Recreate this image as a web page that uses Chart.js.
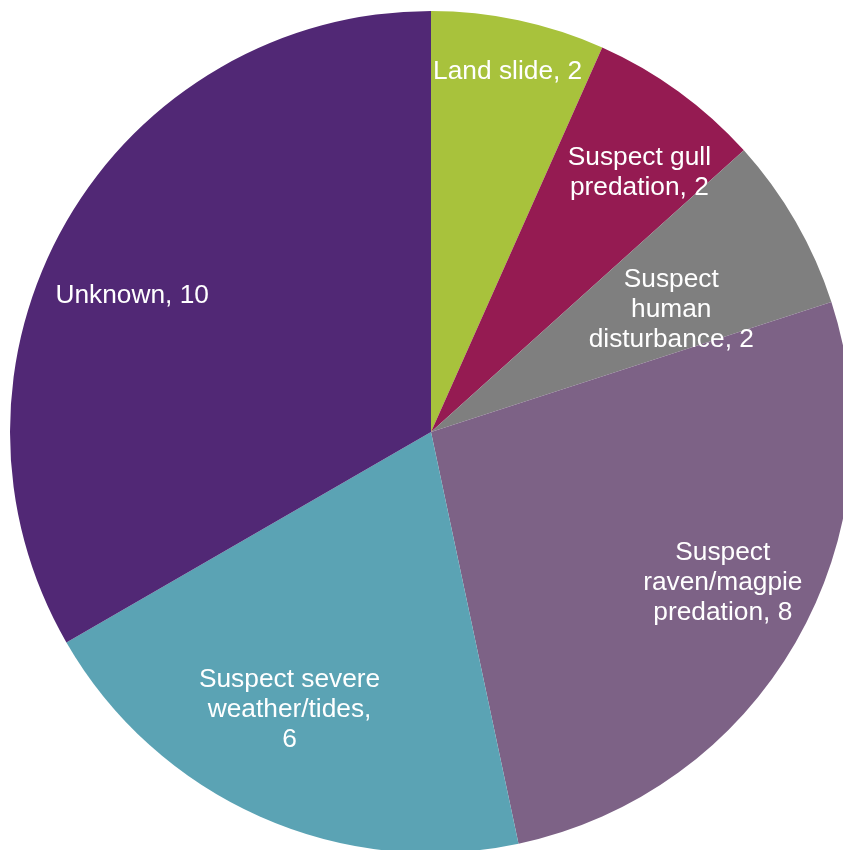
<!DOCTYPE html>
<html>
<head>
<meta charset="utf-8">
<script src="https://cdn.jsdelivr.net/npm/chart.js@4"></script>
<style>
  html, body { margin: 0; padding: 0; background: #fff; overflow: hidden; }
  #wrap { width: 862px; height: 864px; }
</style>
</head>
<body>
<div id="wrap"><canvas id="pie-chart"></canvas></div>
<script>
// categories and values, clockwise from 12 o'clock
const causes = ["Land slide", "Suspect gull predation", "Suspect human disturbance",
                "Suspect raven/magpie predation", "Suspect severe weather/tides", "Unknown"];
const counts = [2, 2, 2, 8, 6, 10];
// how each data label is broken over lines (the value is appended to the last line)
const labelLines = [
  ["Land slide,"],
  ["Suspect gull", "predation,"],
  ["Suspect", "human", "disturbance,"],
  ["Suspect", "raven/magpie", "predation,"],
  ["Suspect severe", "weather/tides,", ""],
  ["Unknown,"]
];
const colours = ["#a8c23c", "#951b52", "#7f7f7f", "#7d6286", "#5ba3b4", "#512875"];
// label placement: share of the radius, and a nudge off the slice's middle (degrees)
const labelRadius = [0.876, 0.79, 0.64, 0.78, 0.74, 0.78];
const labelNudge = [0, 2.8, 3.1, -2.7, 3, -5.5];

const sliceLabels = {
  id: 'sliceLabels',
  afterDatasetsDraw(chart) {
    const ctx = chart.ctx;
    const meta = chart.getDatasetMeta(0);
    ctx.save();
    ctx.fillStyle = "#ffffff";
    ctx.font = "26.3px 'Liberation Sans', Arial, sans-serif";
    ctx.textAlign = "center";
    ctx.textBaseline = "middle";
    meta.data.forEach(function(arc, i) {
      const p = arc.getProps(['x', 'y', 'startAngle', 'endAngle', 'outerRadius'], true);
      const mid = (p.startAngle + p.endAngle) / 2 + labelNudge[i] * Math.PI / 180;
      const r = p.outerRadius * labelRadius[i];
      const cx = p.x + Math.cos(mid) * r;
      const cy = p.y + Math.sin(mid) * r;
      const lines = labelLines[i].slice();
      const last = lines.length - 1;
      lines[last] = lines[last] === "" ? String(counts[i]) : lines[last] + " " + counts[i];
      const lh = 30;
      const top = cy - (lines.length - 1) * lh / 2;
      lines.forEach(function(t, k) { ctx.fillText(t, cx, top + k * lh); });
    });
    ctx.restore();
  }
};

new Chart(document.getElementById("pie-chart"), {
  type: 'pie',
  data: {
    labels: causes,
    datasets: [{
      data: counts,
      backgroundColor: colours,
      borderWidth: 0
    }]
  },
  options: {
    responsive: true,
    maintainAspectRatio: false,
    animation: false,
    layout: { padding: 10 },
    plugins: {
      legend: { display: false },
      tooltip: { enabled: false },
      title: { display: false }
    }
  },
  plugins: [sliceLabels]
});
</script>
</body>
</html>
